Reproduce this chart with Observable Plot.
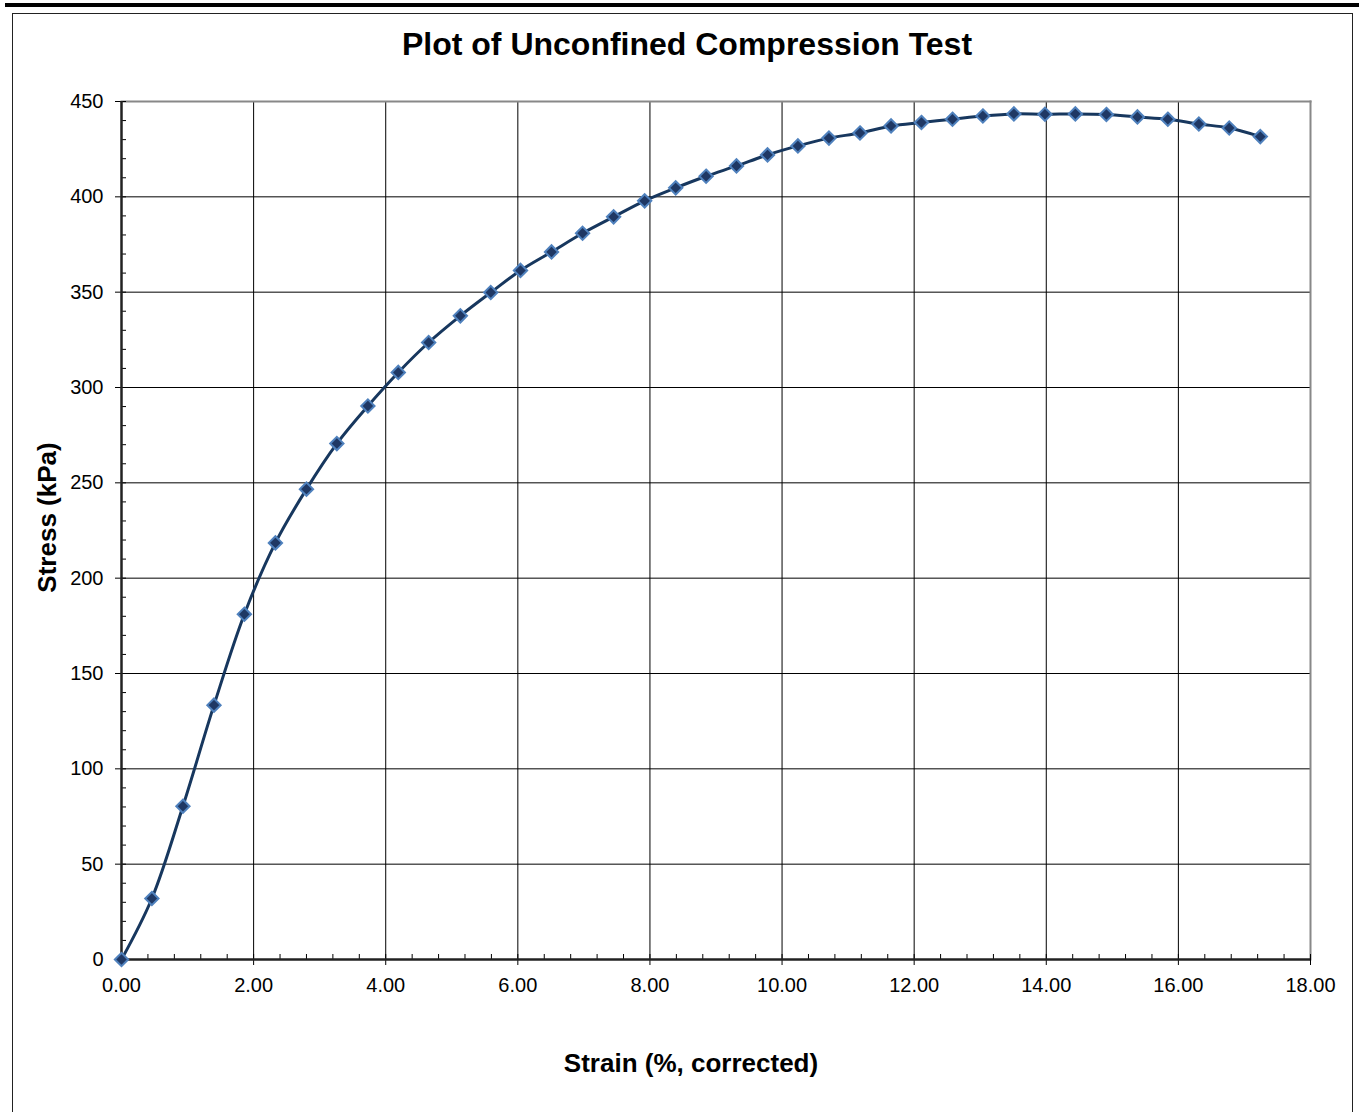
<!DOCTYPE html>
<html><head><meta charset="utf-8">
<script src="https://cdn.jsdelivr.net/npm/d3@7"></script>
<script src="https://cdn.jsdelivr.net/npm/@observablehq/plot@0.6"></script>
<style>
body{margin:0;background:#fff;font-family:Arial,"Liberation Sans",sans-serif;}
#wrap{position:relative;width:1359px;height:1112px;overflow:hidden;background:#fff;}
#topbar{position:absolute;left:5px;top:3px;width:1354px;height:4px;background:#000;}
#border{position:absolute;left:12px;top:13px;width:1341px;height:1200px;border:1.5px solid #222;box-sizing:border-box;}
#title{position:absolute;left:0;width:1374px;top:26px;line-height:36px;text-align:center;font-weight:bold;font-size:32px;font-family:Arial,"Liberation Sans",sans-serif;color:#000;}
#chart{position:absolute;left:0;top:0;}
</style>
</head>
<body>
<div id="wrap">
  <div id="topbar"></div>
  <div id="border"></div>
  <div id="chart"></div>
  <div id="title">Plot of Unconfined Compression Test</div>
</div>
<script>
// Data
const strain = [0.00, 0.46, 0.93, 1.40, 1.86, 2.33, 2.80, 3.26, 3.73, 4.19,
  4.65, 5.13, 5.59, 6.04, 6.51, 6.98, 7.45, 7.92, 8.39, 8.85,
  9.31, 9.78, 10.24, 10.71, 11.18, 11.65, 12.11, 12.58, 13.04, 13.51,
  13.98, 14.44, 14.91, 15.38, 15.84, 16.31, 16.77, 17.24];
const stress = [0.0, 32.0, 80.4, 133.4, 181.1, 218.5, 246.7, 270.6, 290.3, 307.9,
  323.6, 337.6, 349.8, 361.4, 371.1, 380.9, 389.5, 397.9, 404.7, 410.8,
  416.2, 422.0, 426.7, 430.8, 433.5, 437.2, 439.0, 440.7, 442.4, 443.5,
  443.3, 443.5, 443.2, 441.9, 440.7, 438.2, 436.1, 431.6];

const xTicks = [0, 2, 4, 6, 8, 10, 12, 14, 16, 18];
const yTicks = [0, 50, 100, 150, 200, 250, 300, 350, 400, 450];
const xMinor = d3.range(0, 18.001, 0.4);
const yMinor = d3.range(0, 451, 10);

const xLabel = "Strain (%, corrected)";
const yLabel = "Stress (kPa)";

const data = strain.map((s, i) => ({strain: s, stress: stress[i]}));

const chart = Plot.plot({
  width: 1359,
  height: 1112,
  marginLeft: 121,
  marginRight: 49,
  marginTop: 101,
  marginBottom: 153,
  style: {fontFamily: 'Arial, "Liberation Sans", sans-serif', background: "transparent", color: "#000"},
  x: {domain: [0, 18]},
  y: {domain: [0, 450]},
  marks: [
    Plot.gridX(xTicks.filter(d => d > 0 && d < 18), {stroke: "#000", strokeOpacity: 1, strokeWidth: 1}),
    Plot.gridY(yTicks.filter(d => d > 0 && d < 450), {stroke: "#000", strokeOpacity: 1, strokeWidth: 1}),
    Plot.frame({anchor: "top", stroke: "#888", strokeWidth: 2}),
    Plot.frame({anchor: "right", stroke: "#888", strokeWidth: 2}),
    Plot.axisX(xMinor, {tickSize: -5, fill: "none", label: null, stroke: "#000"}),
    Plot.axisY(yMinor, {tickSize: -5, fill: "none", label: null, stroke: "#000"}),
    Plot.axisX(xTicks, {tickSize: 6, tickPadding: 12, tickFormat: d => d.toFixed(2), fontSize: 20, label: null, stroke: "#000", fill: "#000"}),
    Plot.axisY(yTicks, {tickSize: 6, tickPadding: 12, fontSize: 20, label: null, stroke: "#000", fill: "#000"}),
    Plot.ruleX([0], {stroke: "#222", strokeWidth: 2.5}),
    Plot.ruleY([0], {stroke: "#222", strokeWidth: 2.5}),
    Plot.line(data, {x: "strain", y: "stress", curve: "catmull-rom", stroke: "#17375e", strokeWidth: 3}),
    Plot.dot(data, {x: "strain", y: "stress", symbol: "diamond2", r: 6, fill: "#1f3864", stroke: "#4f81bd", strokeWidth: 2}),
    Plot.text([yLabel], {frameAnchor: "left", textAnchor: "middle", lineAnchor: "middle", dx: -74, dy: -13, rotate: -90, fontSize: 26, fontWeight: "bold", fill: "#000"}),
    Plot.text([xLabel], {frameAnchor: "bottom", textAnchor: "middle", lineAnchor: "middle", dx: -25, dy: 104, fontSize: 26, fontWeight: "bold", fill: "#000"})
  ]
});
document.getElementById("chart").appendChild(chart);
</script>
</body>
</html>
